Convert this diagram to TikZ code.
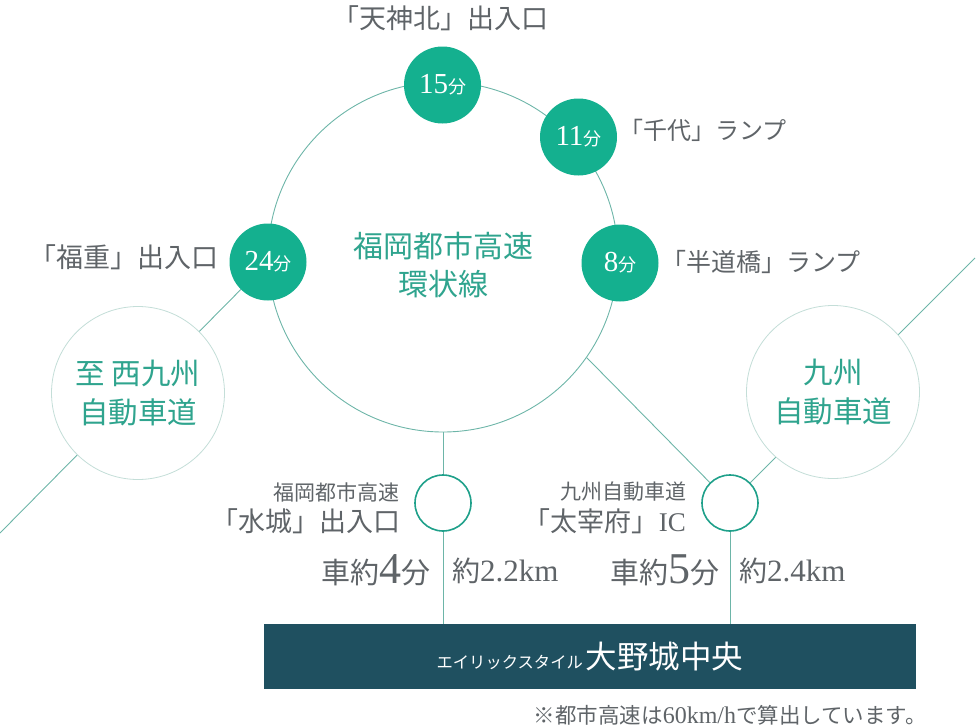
\documentclass[tikz,border=0pt]{standalone}
\usepackage{fontspec}
\usetikzlibrary{backgrounds}
\setmainfont{Noto Sans CJK JP}
\newfontfamily\lat{Liberation Serif}
\newcommand{\fs}[1]{\fontsize{#1}{#1}\selectfont}
\newcommand{\mins}[1]{{\lat\fs{29}#1}{\fs{18}分}}
\definecolor{teal}{HTML}{14B08F}
\definecolor{tealtxt}{HTML}{2FA48E}
\definecolor{linec}{HTML}{6DB5A8}
\definecolor{palec}{HTML}{C4DED8}
\definecolor{navy}{HTML}{1F5060}
\definecolor{greytxt}{HTML}{5F6468}
\definecolor{ringc}{HTML}{1FA08A}
\tikzset{
  conn/.style={draw=linec,line width=0.9pt},
  stopdot/.style={circle,fill=teal,draw=none,minimum size=77pt,inner sep=0pt,text=white},
  ringdot/.style={circle,fill=white,draw=ringc,line width=1.6pt,minimum size=56pt,inner sep=0pt},
  bigcirc/.style={circle,fill=white,draw=palec,line width=0.8pt,minimum size=173pt,inner sep=0pt,text=tealtxt,align=center},
  lab/.style={text=greytxt,inner sep=0pt},
  lineb/.style={text=tealtxt,inner sep=0pt,align=center}
}
\begin{document}
\begin{tikzpicture}[x=1pt,y=-1pt]
\useasboundingbox (0,0) rectangle (980,728);
\node[circle,draw=linec,line width=0.9pt,minimum size=350pt,inner sep=0pt] (ring) at (443,257) {};
\coordinate (west) at (0,533);
\coordinate (east) at (975,258);
\node[ringdot] (mizuki) at (443,503) {};
\node[ringdot] (dazaifu) at (730,503) {};
\node[bigcirc] (west9) at (138,393) {\fs{29.5}至 西九州\\[11pt]\fs{29.5}自動車道};
\node[bigcirc] (kyushu) at (833,392) {\fs{29.5}九州\\[11pt]\fs{29.5}自動車道};
\node[stopdot] (s24) at (268,262) {\mins{24}};
\node[stopdot] (s15) at (442.5,85) {\mins{15}};
\node[stopdot] (s11) at (578.5,137) {\mins{11}};
\node[stopdot] (s8) at (620,263) {\mins{8}};
\node[fill=navy,minimum width=652pt,minimum height=65pt,inner sep=0pt,text=white] (bar) at (590,656.5) {\fs{16.3}エイリックスタイル\hspace{3pt}\fs{31.5}大野城中央};
\node[lineb] (title) at (443,265) {\fs{30}福岡都市高速\\[9pt]\fs{30}環状線};
\node[lab] (l15) at (440,18) {\fs{27}「天神北」出入口};
\node[lab] (l11) at (703,130) {\fs{24}「千代」ランプ};
\node[lab] (l8) at (761,262) {\fs{25}「半道橋」ランプ};
\node[lab] (l24) at (124,257) {\fs{27}「福重」出入口};
\node[lab,anchor=east] (c1) at (400,492) {\fs{21}福岡都市高速};
\node[lab,anchor=east] (m1) at (401,521) {\fs{27}「水城」出入口};
\node[lab,anchor=east] (c2) at (687,492) {\fs{21}九州自動車道};
\node[lab,anchor=east] (m2) at (686,521) {\fs{27}「太宰府」{\lat IC}};
\node[lab,anchor=east] (t1) at (431,570) {\fs{29}車約{\lat\fs{44}4}分};
\node[lab,anchor=west] (d1) at (452,571) {\fs{28}約{\lat\fs{31}2.2km}};
\node[lab,anchor=east] (t2) at (720,570) {\fs{29}車約{\lat\fs{44}5}分};
\node[lab,anchor=west] (d2) at (739,571) {\fs{28}約{\lat\fs{31}2.4km}};
\node[lab,anchor=east] (note) at (927,715) {\fs{21.5}※都市高速は{\lat\fs{24}60km/h}で算出しています。};
\begin{scope}[on background layer]
\draw[conn] (west) -- (s24);
\draw[conn] (east) -- (dazaifu);
\draw[conn] (ring.-35.8) -- (dazaifu);
\draw[conn] (ring.south) -- (mizuki);
\draw[conn] (mizuki) -- (mizuki |- bar.north);
\draw[conn] (dazaifu) -- (dazaifu |- bar.north);
\end{scope}
\end{tikzpicture}
\end{document}
